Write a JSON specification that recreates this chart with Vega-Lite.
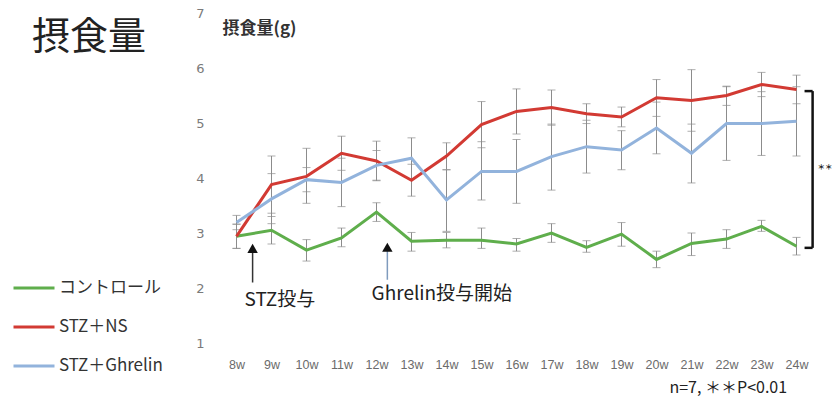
{
  "$schema": "https://vega.github.io/schema/vega-lite/v6.json",
  "autosize": {"type": "none"},
  "width": 609,
  "height": 330,
  "padding": {"left": 212, "top": 13, "right": 13, "bottom": 62},
  "background": "white",
  "title": {
    "text": "摂食量",
    "anchor": "start",
    "frame": "group",
    "fontSize": 38,
    "fontWeight": "normal",
    "font": "Noto Sans CJK JP",
    "color": "#222222",
    "baseline": "top",
    "dx": -180,
    "dy": 54
  },
  "config": {
    "view": {"stroke": null},
    "font": "Noto Sans CJK JP",
    "axisX": {"labelOverlap": false, "labelFlush": false, "labelBound": false}
  },
  "datasets": {
    "intake": [
      {"week": 8, "group": "コントロール", "mean": 2.94, "lo": 2.72, "hi": 3.16},
      {"week": 9, "group": "コントロール", "mean": 3.05, "lo": 2.80, "hi": 3.30},
      {"week": 10, "group": "コントロール", "mean": 2.69, "lo": 2.49, "hi": 2.88},
      {"week": 11, "group": "コントロール", "mean": 2.91, "lo": 2.75, "hi": 3.09},
      {"week": 12, "group": "コントロール", "mean": 3.38, "lo": 3.21, "hi": 3.55},
      {"week": 13, "group": "コントロール", "mean": 2.85, "lo": 2.67, "hi": 3.01},
      {"week": 14, "group": "コントロール", "mean": 2.87, "lo": 2.73, "hi": 3.01},
      {"week": 15, "group": "コントロール", "mean": 2.87, "lo": 2.72, "hi": 3.09},
      {"week": 16, "group": "コントロール", "mean": 2.80, "lo": 2.67, "hi": 2.90},
      {"week": 17, "group": "コントロール", "mean": 3.00, "lo": 2.83, "hi": 3.17},
      {"week": 18, "group": "コントロール", "mean": 2.74, "lo": 2.65, "hi": 2.86},
      {"week": 19, "group": "コントロール", "mean": 2.98, "lo": 2.76, "hi": 3.19},
      {"week": 20, "group": "コントロール", "mean": 2.52, "lo": 2.37, "hi": 2.67},
      {"week": 21, "group": "コントロール", "mean": 2.81, "lo": 2.59, "hi": 3.00},
      {"week": 22, "group": "コントロール", "mean": 2.89, "lo": 2.72, "hi": 3.06},
      {"week": 23, "group": "コントロール", "mean": 3.12, "lo": 3.03, "hi": 3.23},
      {"week": 24, "group": "コントロール", "mean": 2.76, "lo": 2.60, "hi": 2.92},

      {"week": 8, "group": "STZ＋NS", "mean": 2.94, "lo": 2.72, "hi": 3.16},
      {"week": 9, "group": "STZ＋NS", "mean": 3.88, "lo": 3.36, "hi": 4.40},
      {"week": 10, "group": "STZ＋NS", "mean": 4.03, "lo": 3.54, "hi": 4.54},
      {"week": 11, "group": "STZ＋NS", "mean": 4.45, "lo": 4.14, "hi": 4.76},
      {"week": 12, "group": "STZ＋NS", "mean": 4.31, "lo": 3.95, "hi": 4.67},
      {"week": 13, "group": "STZ＋NS", "mean": 3.96, "lo": 3.67, "hi": 4.25},
      {"week": 14, "group": "STZ＋NS", "mean": 4.40, "lo": 4.15, "hi": 4.64},
      {"week": 15, "group": "STZ＋NS", "mean": 4.97, "lo": 4.55, "hi": 5.39},
      {"week": 16, "group": "STZ＋NS", "mean": 5.21, "lo": 4.80, "hi": 5.62},
      {"week": 17, "group": "STZ＋NS", "mean": 5.28, "lo": 4.96, "hi": 5.60},
      {"week": 18, "group": "STZ＋NS", "mean": 5.17, "lo": 4.99, "hi": 5.35},
      {"week": 19, "group": "STZ＋NS", "mean": 5.11, "lo": 4.93, "hi": 5.29},
      {"week": 20, "group": "STZ＋NS", "mean": 5.46, "lo": 5.12, "hi": 5.79},
      {"week": 21, "group": "STZ＋NS", "mean": 5.41, "lo": 4.85, "hi": 5.97},
      {"week": 22, "group": "STZ＋NS", "mean": 5.50, "lo": 5.32, "hi": 5.67},
      {"week": 23, "group": "STZ＋NS", "mean": 5.70, "lo": 5.48, "hi": 5.92},
      {"week": 24, "group": "STZ＋NS", "mean": 5.61, "lo": 5.35, "hi": 5.87},

      {"week": 8, "group": "STZ＋Ghrelin", "mean": 3.19, "lo": 3.06, "hi": 3.32},
      {"week": 9, "group": "STZ＋Ghrelin", "mean": 3.62, "lo": 3.17, "hi": 4.08},
      {"week": 10, "group": "STZ＋Ghrelin", "mean": 3.97, "lo": 3.75, "hi": 4.19},
      {"week": 11, "group": "STZ＋Ghrelin", "mean": 3.92, "lo": 3.48, "hi": 4.36},
      {"week": 12, "group": "STZ＋Ghrelin", "mean": 4.23, "lo": 3.96, "hi": 4.50},
      {"week": 13, "group": "STZ＋Ghrelin", "mean": 4.36, "lo": 3.99, "hi": 4.73},
      {"week": 14, "group": "STZ＋Ghrelin", "mean": 3.60, "lo": 3.03, "hi": 4.15},
      {"week": 15, "group": "STZ＋Ghrelin", "mean": 4.12, "lo": 3.60, "hi": 4.66},
      {"week": 16, "group": "STZ＋Ghrelin", "mean": 4.12, "lo": 3.54, "hi": 4.70},
      {"week": 17, "group": "STZ＋Ghrelin", "mean": 4.39, "lo": 3.78, "hi": 4.98},
      {"week": 18, "group": "STZ＋Ghrelin", "mean": 4.57, "lo": 4.09, "hi": 5.05},
      {"week": 19, "group": "STZ＋Ghrelin", "mean": 4.51, "lo": 4.15, "hi": 4.86},
      {"week": 20, "group": "STZ＋Ghrelin", "mean": 4.91, "lo": 4.44, "hi": 5.38},
      {"week": 21, "group": "STZ＋Ghrelin", "mean": 4.45, "lo": 3.91, "hi": 4.98},
      {"week": 22, "group": "STZ＋Ghrelin", "mean": 4.99, "lo": 4.32, "hi": 5.66},
      {"week": 23, "group": "STZ＋Ghrelin", "mean": 4.99, "lo": 4.41, "hi": 5.57},
      {"week": 24, "group": "STZ＋Ghrelin", "mean": 5.03, "lo": 4.40, "hi": 5.66}
    ],
    "arrows": [
      {"name": "STZ", "week": 8.46, "head": 2.72, "tail": 2.1},
      {"name": "Ghrelin", "week": 12.31, "head": 2.74, "tail": 2.15}
    ],
    "notes": [
      {"week": 8.23, "y": 1.79, "text": "STZ投与", "size": "big"},
      {"week": 11.86, "y": 1.9, "text": "Ghrelin投与開始", "size": "big"},
      {"week": 20.37, "y": 0.19, "text": "n=7, ＊＊P<0.01", "size": "small"}
    ],
    "bracket": [
      {"week": 24.46, "week2": 24.46, "y": 2.73, "y2": 5.58},
      {"week": 24.23, "week2": 24.46, "y": 5.58, "y2": 5.58},
      {"week": 24.23, "week2": 24.46, "y": 2.73, "y2": 2.73}
    ],
    "signif": [
      {"week": 24.6, "y": 4.19, "text": "＊＊"}
    ]
  },
  "encoding": {
    "x": {"field": "week", "type": "quantitative", "scale": {"domain": [7.3, 24.7], "nice": false, "zero": false},
      "axis": {"values": [8, 9, 10, 11, 12, 13, 14, 15, 16, 17, 18, 19, 20, 21, 22, 23, 24], "labelExpr": "datum.value + 'w'", "labelOverlap": false, "title": null, "domain": false, "ticks": false, "grid": false, "labelPadding": 15, "labelFontSize": 12.5, "labelColor": "#6b6b6b", "labelFont": "Liberation Sans", "labelFontWeight": "normal"}}
  },
  "layer": [
    {
      "data": {"name": "intake"},
      "mark": {"type": "rule", "color": "#8c8c8c", "strokeWidth": 1},
      "encoding": {
        "y": {"field": "lo", "type": "quantitative", "scale": {"domain": [1, 7], "nice": false, "zero": false},
          "axis": {"values": [1, 2, 3, 4, 5, 6, 7], "format": "d", "title": "摂食量(g)", "titleAngle": 0, "titleX": 10, "titleY": 15, "titleAlign": "left", "titleBaseline": "middle", "titleFontSize": 17, "titleFontWeight": "bold", "titleColor": "#333333", "titleFont": "Noto Sans CJK JP", "domain": false, "ticks": false, "grid": false, "labelPadding": 8, "labelFontSize": 13, "labelColor": "#7a7a7a", "labelFont": "DejaVu Sans"}},
        "y2": {"field": "hi"}
      }
    },
    {
      "data": {"name": "intake"},
      "mark": {"type": "tick", "orient": "horizontal", "color": "#8c8c8c", "thickness": 1, "size": 8},
      "encoding": {
        "y": {"field": "lo", "type": "quantitative"}
      }
    },
    {
      "data": {"name": "intake"},
      "mark": {"type": "tick", "orient": "horizontal", "color": "#8c8c8c", "thickness": 1, "size": 8},
      "encoding": {
        "y": {"field": "hi", "type": "quantitative"}
      }
    },
    {
      "data": {"name": "intake"},
      "mark": {"type": "line", "strokeWidth": 3},
      "encoding": {
        "y": {"field": "mean", "type": "quantitative"},
        "color": {
          "field": "group", "type": "nominal",
          "scale": {"domain": ["コントロール", "STZ＋NS", "STZ＋Ghrelin"], "range": ["#5fae4c", "#d23a33", "#92b3dc"]},
          "legend": {"orient": "none", "legendX": -200, "legendY": 253, "title": null, "symbolType": "stroke", "symbolSize": 1681, "symbolStrokeWidth": 3, "labelFontSize": 17, "labelColor": "#333333", "labelFont": "Noto Sans CJK JP", "labelOffset": 3, "rowPadding": 9}
        }
      }
    },
    {
      "data": {"name": "arrows"},
      "mark": {"type": "rule", "strokeWidth": 1.5},
      "encoding": {
        "y": {"field": "head", "type": "quantitative"},
        "y2": {"field": "tail"},
        "color": {"condition": {"test": "datum.name === 'Ghrelin'", "value": "#7f9bbd"}, "value": "#333333"}
      }
    },
    {
      "data": {"name": "arrows"},
      "mark": {"type": "point", "shape": "triangle-up", "filled": true, "color": "#111111", "size": 110, "opacity": 1},
      "encoding": {
        "y": {"field": "head", "type": "quantitative"}
      }
    },
    {
      "data": {"name": "notes"},
      "mark": {"type": "text", "align": "left", "baseline": "middle", "font": "Noto Sans CJK JP"},
      "encoding": {
        "y": {"field": "y", "type": "quantitative"},
        "text": {"field": "text"},
        "size": {"field": "size", "type": "nominal", "scale": {"domain": ["big", "small"], "range": [19, 16]}, "legend": null},
        "color": {"value": "#222222"}
      }
    },
    {
      "data": {"name": "bracket"},
      "mark": {"type": "rule", "color": "#111111", "strokeWidth": 2.5},
      "encoding": {
        "x2": {"field": "week2"},
        "y": {"field": "y", "type": "quantitative"},
        "y2": {"field": "y2"}
      }
    },
    {
      "data": {"name": "signif"},
      "mark": {"type": "text", "align": "left", "baseline": "middle", "fontSize": 7.5, "color": "#222222", "font": "Noto Sans CJK JP", "fontWeight": "bold"},
      "encoding": {
        "y": {"field": "y", "type": "quantitative"},
        "text": {"field": "text"}
      }
    }
  ]
}
